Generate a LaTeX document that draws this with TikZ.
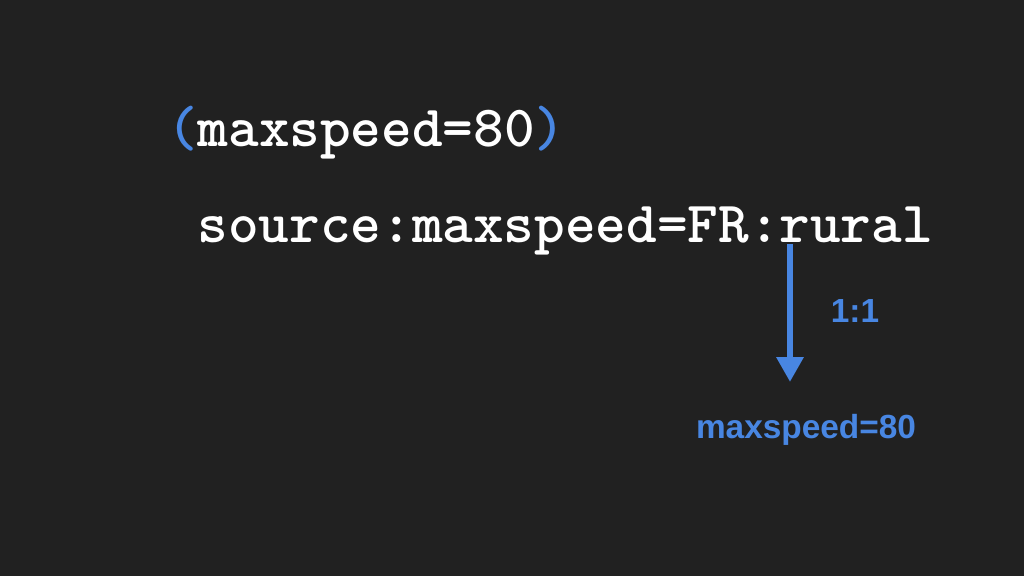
\documentclass[tikz,border=0pt]{standalone}
\usepackage{fontspec}
\setmainfont{Liberation Sans}
\setsansfont{Liberation Sans}
\usepackage{xcolor}
\definecolor{bgdark}{RGB}{33, 33, 33}
\definecolor{keyblue}{RGB}{72, 134, 226}
\usepackage{tikz}
\usetikzlibrary{arrows.meta, positioning}

\begin{document}
\begin{tikzpicture}[
      tagtxt/.style={inner sep=0pt, anchor=base west, text=white, font=\fontsize{16.6}{19}\selectfont\ttfamily\bfseries},
      outtxt/.style={inner sep=0pt, anchor=base, text=keyblue, font=\fontsize{9.5}{11}\selectfont\sffamily\bfseries},
      arr/.style={-{Triangle[length=2.5mm, width=2.6mm]}, line width=1.85pt, keyblue}
  ]
    % Background
    \fill[bgdark] (0, 0) rectangle (10.24, 5.76);
    \useasboundingbox (0, 0) rectangle (10.24, 5.76);

    % Tags
    \node[tagtxt] (tagin) at (1.665, 4.30) {\textcolor{keyblue}{(}maxspeed=80\textcolor{keyblue}{)}};
    \node[tagtxt] (tagsrc) at (1.97, 3.34) {source:maxspeed=FR:rural};

    % Result
    \node[outtxt] (ratio) at (8.55, 2.54) {1:1};
    \node[outtxt] (tagout) at (8.06, 1.38) {maxspeed=80};

    % Connection
    \coordinate (arrtop) at (7.9, 3.32);
    \coordinate (arrend) at (7.9, 1.94);
    \draw[arr] (arrtop) -- (arrend);
  \end{tikzpicture}
\end{document}
